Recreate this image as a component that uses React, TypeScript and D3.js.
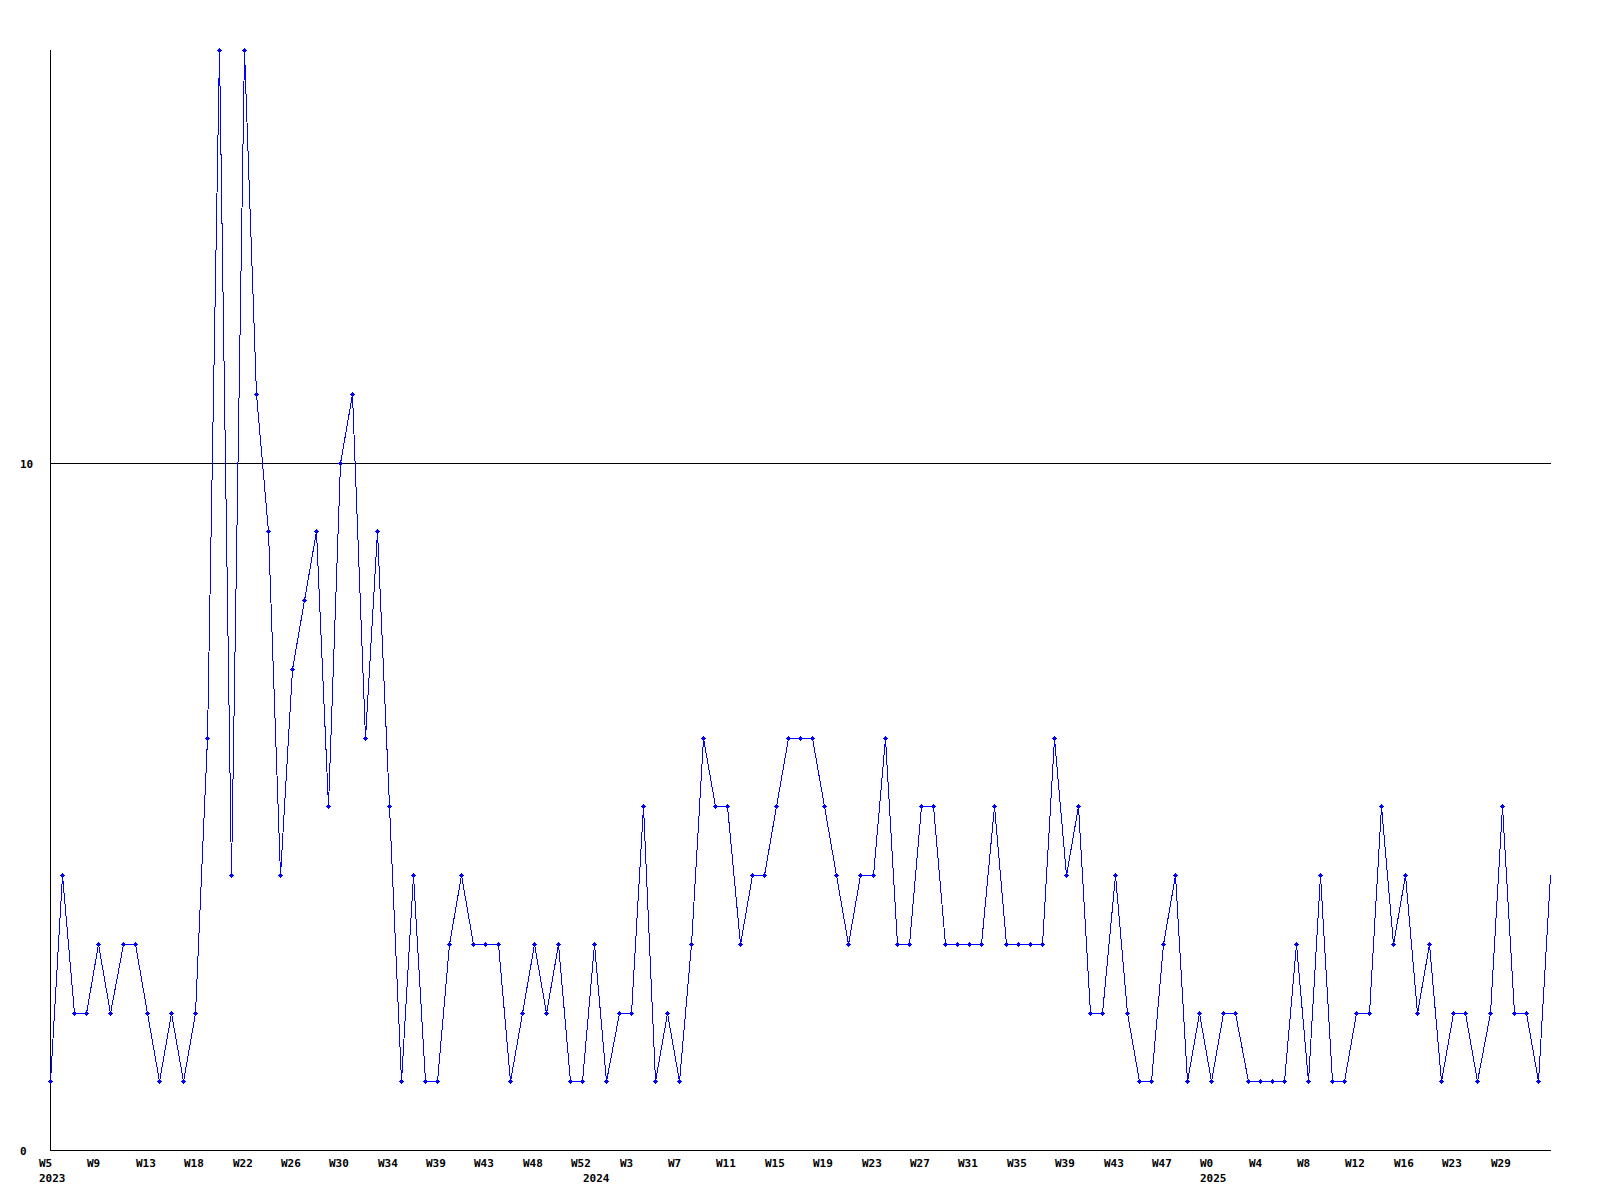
import React from "react";
import * as d3 from "d3";

const values: number[] = [
  1, 4, 2, 2, 3, 2, 3, 3, 2, 1, 2, 1, 2, 6, 16, 4, 16, 11, 9, 4,
  7, 8, 9, 5, 10, 11, 6, 9, 5, 1, 4, 1, 1, 3, 4, 3, 3, 3, 1, 2,
  3, 2, 3, 1, 1, 3, 1, 2, 2, 5, 1, 2, 1, 3, 6, 5, 5, 3, 4, 4,
  5, 6, 6, 6, 5, 4, 3, 4, 4, 6, 3, 3, 5, 5, 3, 3, 3, 3, 5, 3,
  3, 3, 3, 6, 4, 5, 2, 2, 4, 2, 1, 1, 3, 4, 1, 2, 1, 2, 2, 1,
  1, 1, 1, 3, 1, 4, 1, 1, 2, 2, 5, 3, 4, 2, 3, 1, 2, 2, 1, 2,
  5, 2, 2, 1, 4,
];

const weekLabels: string[] = [
  "W5", "W9", "W13", "W18", "W22", "W26", "W30", "W34", "W39", "W43", "W48",
  "W52", "W3", "W7", "W11", "W15", "W19", "W23", "W27", "W31", "W35", "W39",
  "W43", "W47", "W0", "W4", "W8", "W12", "W16", "W23", "W29",
];
const weekLabelStep = 4;

const yearLabels: string[] = ["2023", "2024", "2025"];
const yearLabelIndex: number[] = [0, 45, 96];

const yTicks: number[] = [0, 10];
const yMax = 16;

const W = 1600;
const H = 1200;
const left = 50;
const right = 1550;
const top = 50;
const bottom = 1150;

const font = "'DejaVu Sans Mono', 'Liberation Mono', monospace";

export default function App() {
  const x = d3
    .scaleLinear()
    .domain([0, values.length - 1])
    .range([left, right]);
  const y = d3.scaleLinear().domain([0, yMax]).range([bottom, top]);

  const px = (i: number) => Math.round(x(i));
  const py = (v: number) => Math.round(y(v));

  const line = d3
    .line<number>()
    .x((_, i) => px(i) + 0.5)
    .y((d) => py(d) + 0.5);

  return (
    <svg
      width={W}
      height={H}
      style={{ position: "absolute", left: 0, top: 0, background: "#fff" }}
    >
      <rect x={0} y={0} width={W} height={H} fill="#fff" />
      {/* axes */}
      <g shapeRendering="crispEdges" stroke="#000" strokeWidth={1}>
        <line x1={left + 0.5} y1={top} x2={left + 0.5} y2={bottom + 1} />
        <line x1={left} y1={bottom + 0.5} x2={right + 1} y2={bottom + 0.5} />
        {yTicks
          .filter((t) => t !== 0)
          .map((t) => (
            <line
              key={t}
              x1={left}
              y1={py(t) + 0.5}
              x2={right + 1}
              y2={py(t) + 0.5}
            />
          ))}
      </g>
      {/* y labels */}
      {yTicks.map((t) => (
        <text
          key={"yl" + t}
          x={20}
          y={py(t) + 5}
          fontFamily={font}
          fontWeight="bold"
          fontSize={11}
          fill="#000"
        >
          {t}
        </text>
      ))}
      {/* x labels */}
      {weekLabels.map((lab, k) => (
        <text
          key={"w" + k}
          x={px(k * weekLabelStep) - 11}
          y={1167}
          fontFamily={font}
          fontWeight="bold"
          fontSize={11}
          fill="#000"
        >
          {lab}
        </text>
      ))}
      {yearLabels.map((lab, k) => (
        <text
          key={"y" + k}
          x={px(yearLabelIndex[k]) - 11}
          y={1182}
          fontFamily={font}
          fontWeight="bold"
          fontSize={11}
          fill="#000"
        >
          {lab}
        </text>
      ))}
      {/* series */}
      <path
        d={line(values) || ""}
        fill="none"
        stroke="#0000ff"
        strokeWidth={1}
        shapeRendering="crispEdges"
      />
      <g fill="#0000ff" shapeRendering="crispEdges">
        {values.slice(0, values.length - 1).map((v, i) => {
          const cx = px(i);
          const cy = py(v);
          return (
            <g key={"m" + i}>
              <rect x={cx - 2} y={cy} width={5} height={1} />
              <rect x={cx} y={cy - 2} width={1} height={5} />
              <rect x={cx - 1} y={cy - 1} width={3} height={3} />
            </g>
          );
        })}
      </g>
    </svg>
  );
}
